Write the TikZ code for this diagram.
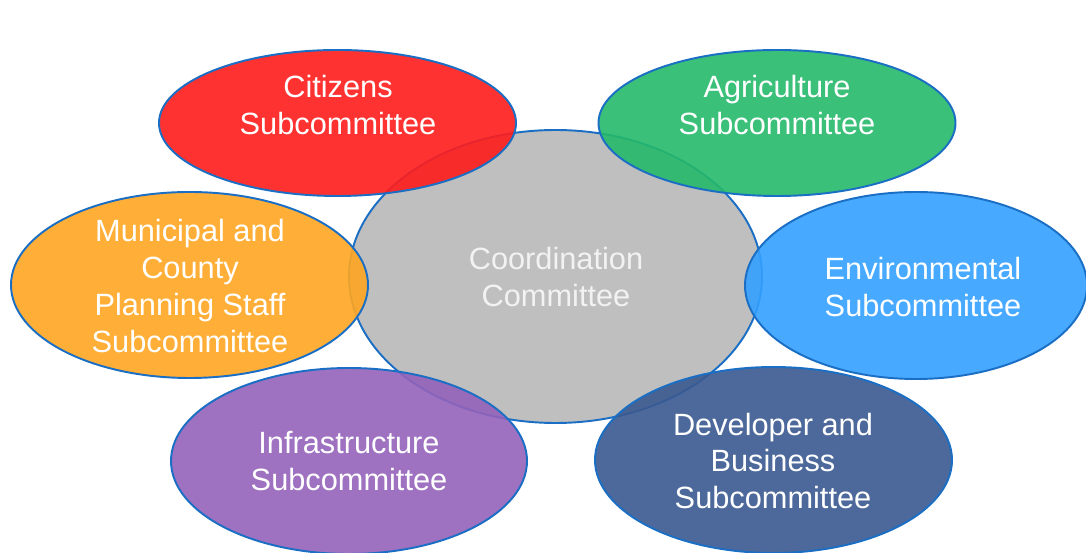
\documentclass[tikz,border=0pt]{standalone}
\usepackage{fontspec}
\setmainfont{Liberation Sans}
\usetikzlibrary{shapes.geometric}

\definecolor{cRed}{HTML}{FF1C1C}
\definecolor{cGreen}{HTML}{25B96A}
\definecolor{cOrange}{HTML}{FFA621}
\definecolor{cBlue}{HTML}{33A0FF}
\definecolor{cPurple}{HTML}{9362BA}
\definecolor{cNavy}{HTML}{3A5990}
\definecolor{cGray}{HTML}{BFBFBF}
\definecolor{cEdge}{HTML}{1A6EC4}

\begin{document}
\begin{tikzpicture}[x=0.02cm,y=-0.02cm,
  blob/.style={ellipse,draw=cEdge,line width=1.1pt,inner sep=0pt,fill opacity=0.9},
  txt/.style={text=white,align=center,font=\fontsize{17.5}{21}\selectfont}]
  \useasboundingbox (0,0) rectangle (1086,553);
  % centre committee first, the others lie over it
  \node[blob,fill=cGray,fill opacity=1,minimum width=413*0.02cm,minimum height=293*0.02cm] (coord) at (555.5,276.5) {};
  \node[blob,fill=cRed,minimum width=357*0.02cm,minimum height=146*0.02cm] (cit) at (337.5,123) {};
  \node[blob,fill=cGreen,minimum width=357*0.02cm,minimum height=146*0.02cm] (agr) at (777,123) {};
  \node[blob,fill=cOrange,minimum width=357*0.02cm,minimum height=186*0.02cm] (mun) at (189.5,285) {};
  \node[blob,fill=cBlue,minimum width=342*0.02cm,minimum height=187*0.02cm] (env) at (916,285.5) {};
  \node[blob,fill=cPurple,minimum width=356*0.02cm,minimum height=186*0.02cm] (inf) at (349,461) {};
  \node[blob,fill=cNavy,minimum width=357*0.02cm,minimum height=186*0.02cm] (dev) at (773.5,460) {};
  % labels
  \node[txt,text=white!95!black] (coordtxt) at (556,277) {Coordination\\Committee};
  \node[txt] (cittxt) at (338,105) {Citizens\\Subcommittee};
  \node[txt] (agrtxt) at (777,105) {Agriculture\\Subcommittee};
  \node[txt] (muntxt) at (190,286) {Municipal and\\County\\Planning Staff\\Subcommittee};
  \node[txt] (envtxt) at (923,287) {Environmental\\Subcommittee};
  \node[txt] (inftxt) at (349,461) {Infrastructure\\Subcommittee};
  \node[txt] (devtxt) at (773,461) {Developer and\\Business\\Subcommittee};
\end{tikzpicture}
\end{document}
